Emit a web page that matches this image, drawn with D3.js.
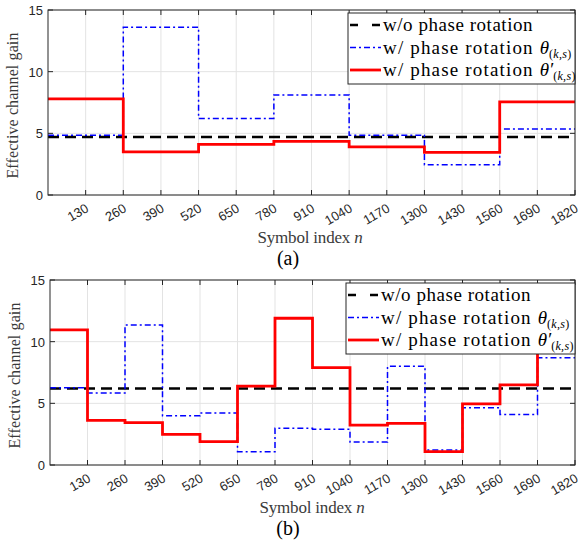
<!DOCTYPE html>
<html><head><meta charset="utf-8">
<script src="https://cdn.jsdelivr.net/npm/d3@7"></script>
<style>body{margin:0;background:#fff;} svg{display:block;}
.serif{font-family:"Liberation Serif","DejaVu Serif",serif;}
.sans{font-family:"Liberation Sans","DejaVu Sans",sans-serif;}
</style>
</head><body>
<svg id="c" width="579" height="545"></svg>
<script>
const xTicks = [130,260,390,520,650,780,910,1040,1170,1300,1430,1560,1690,1820];
const yTicks = [0,5,10,15];
const xMax = 1820;
// Panel (a): segments of 260 symbols
const stepA = 260;
const baseA = 4.7;
const blueA = [4.85, 13.6, 6.2, 8.1, 4.85, 2.45, 5.35];
const redA  = [7.8, 3.5, 4.1, 4.35, 3.9, 3.45, 7.55];
// Panel (b): segments of 130 symbols
const stepB = 130;
const baseB = 6.2;
const blueB = [6.27, 5.84, 11.35, 4.0, 4.22, 1.08, 2.97, 2.89, 1.86, 8.0, 1.22, 4.65, 4.1, 8.7];
const redB  = [10.95, 3.62, 3.43, 2.49, 1.89, 6.4, 11.9, 7.89, 3.24, 3.38, 1.08, 4.95, 6.49, 11.5];

const svg = d3.select("#c");
const axisCol = "#262626";

// widen Times-like text to the width of the original (Computer Modern) text
function fit(sel, target){
  const node = sel.node();
  const w = node.getComputedTextLength();
  const n = node.textContent.length;
  if (n > 1) sel.attr("letter-spacing", ((target - w) / n).toFixed(2));
}

function panel(cfg){
  const x = d3.scaleLinear().domain([0, xMax]).range([cfg.l, cfg.r]);
  const y = d3.scaleLinear().domain([0, 15]).range([cfg.b, cfg.t]);
  const g = svg.append("g");
  // grid
  g.selectAll(".gx").data(xTicks).enter().append("line")
    .attr("x1", d=>x(d)).attr("x2", d=>x(d)).attr("y1", cfg.t).attr("y2", cfg.b)
    .attr("stroke", "#e3e3e3").attr("stroke-width", 1);
  g.selectAll(".gy").data(yTicks).enter().append("line")
    .attr("x1", cfg.l).attr("x2", cfg.r).attr("y1", d=>y(d)).attr("y2", d=>y(d))
    .attr("stroke", "#e3e3e3").attr("stroke-width", 1);

  const mk = (vals, step) => { const p = vals.map((v,i)=>[i*step, v]); p.push([xMax, vals[vals.length-1]]); return p; };
  const line = d3.line().x(d=>x(d[0])).y(d=>y(d[1])).curve(d3.curveStepAfter);

  const clip = "clip" + cfg.id;
  svg.append("clipPath").attr("id", clip).append("rect")
    .attr("x", cfg.l).attr("y", cfg.t).attr("width", cfg.r-cfg.l).attr("height", cfg.b-cfg.t);
  const pg = g.append("g").attr("clip-path", `url(#${clip})`);

  pg.append("path").datum([[0,cfg.base],[xMax,cfg.base]]).attr("d", line)
    .attr("fill","none").attr("stroke","#000").attr("stroke-width",2.6).attr("stroke-dasharray","11,6");
  pg.append("path").datum(mk(cfg.blue, cfg.step)).attr("d", line)
    .attr("fill","none").attr("stroke","#0000ff").attr("stroke-width",1.5).attr("stroke-dasharray","6,3,2,3");
  pg.append("path").datum(mk(cfg.red, cfg.step)).attr("d", line)
    .attr("fill","none").attr("stroke","#ff0000").attr("stroke-width",2.8);

  // axes box
  g.append("rect").attr("x", cfg.l).attr("y", cfg.t).attr("width", cfg.r-cfg.l).attr("height", cfg.b-cfg.t)
    .attr("fill","none").attr("stroke", axisCol).attr("stroke-width", 1);
  // ticks (inward)
  const tl = 5;
  xTicks.forEach(d=>{
    g.append("line").attr("x1",x(d)).attr("x2",x(d)).attr("y1",cfg.b).attr("y2",cfg.b-tl).attr("stroke",axisCol);
    g.append("line").attr("x1",x(d)).attr("x2",x(d)).attr("y1",cfg.t).attr("y2",cfg.t+tl).attr("stroke",axisCol);
  });
  yTicks.forEach(d=>{
    g.append("line").attr("x1",cfg.l).attr("x2",cfg.l+tl).attr("y1",y(d)).attr("y2",y(d)).attr("stroke",axisCol);
    g.append("line").attr("x1",cfg.r).attr("x2",cfg.r-tl).attr("y1",y(d)).attr("y2",y(d)).attr("stroke",axisCol);
  });
  // tick labels
  g.selectAll(".xl").data(xTicks).enter().append("text").attr("class","sans")
    .attr("transform", d=>`translate(${x(d)+4},${cfg.b+16}) rotate(-30)`)
    .attr("text-anchor","end")
    .attr("font-size",13).attr("fill",axisCol).text(d=>d);
  g.selectAll(".yl").data(yTicks).enter().append("text").attr("class","sans")
    .attr("x", cfg.l-5).attr("y", d=>y(d)+5).attr("text-anchor","end")
    .attr("font-size",13).attr("fill",axisCol).text(d=>d);
  // axis labels
  const yl = g.append("text").attr("class","serif").attr("transform", `translate(${cfg.l-30},${(cfg.t+cfg.b)/2+3}) rotate(-90)`)
    .attr("text-anchor","middle")
    .attr("font-size",16).attr("fill","#3a3a3a").text("Effective channel gain");
  fit(yl, 146);
  const xl = g.append("text").attr("class","serif").attr("x", cfg.xlx).attr("y", cfg.b+48).attr("text-anchor","middle")
    .attr("font-size",17).attr("fill","#3a3a3a");
  xl.append("tspan").text("Symbol index ");
  xl.append("tspan").attr("font-style","italic").text("n");
  fit(xl, 105);
  g.append("text").attr("class","serif").attr("x", 288).attr("y", cfg.b+70).attr("text-anchor","middle")
    .attr("font-size",20).attr("fill","#000").text(cfg.cap);

  // legend
  const lx = cfg.legX, ly = cfg.t + 3, lw = cfg.r - cfg.legX, lh = 71;
  g.append("rect").attr("x", lx).attr("y", ly).attr("width", lw).attr("height", lh)
    .attr("fill","#fff").attr("stroke", axisCol).attr("stroke-width",1);
  const items = [
    {col:"#000", w:2.6, dash:"8,14", t:"w/o phase rotation", sym:null, tw:150},
    {col:"#0000ff", w:1.5, dash:"6,3,2,3", t:"w/ phase rotation ", sym:"θ", tw:152},
    {col:"#ff0000", w:2.8, dash:null, t:"w/ phase rotation ", sym:"θ′", tw:152}
  ];
  items.forEach((it,i)=>{
    const yy = ly + 12 + i*22.5;
    g.append("line").attr("x1", lx+2).attr("x2", lx+33).attr("y1", yy).attr("y2", yy)
      .attr("stroke", it.col).attr("stroke-width", it.w).attr("stroke-dasharray", it.dash);
    const t = g.append("text").attr("class","serif").attr("x", lx+35).attr("y", yy+6)
      .attr("font-size",19).attr("fill","#000");
    const main = t.append("tspan").text(it.t);
    const w = main.node().getComputedTextLength();
    const n = it.t.length;
    main.attr("letter-spacing", Math.max(0, (it.tw - w)/n).toFixed(2));
    if (it.sym){
      t.append("tspan").attr("font-style","italic").attr("letter-spacing",0).text(it.sym);
      const s = t.append("tspan").attr("font-size",12).attr("dy",4).attr("letter-spacing",0.3);
      s.append("tspan").text("(");
      s.append("tspan").attr("font-style","italic").text("k");
      s.append("tspan").text(",");
      s.append("tspan").attr("font-style","italic").text("s");
      s.append("tspan").text(")");
    }
  });
}

panel({id:"a", l:48, r:575, t:10, b:195, base:baseA, blue:blueA, red:redA, step:stepA, cap:"(a)", legX:348, xlx:310});
panel({id:"b", l:50, r:575, t:280, b:465, base:baseB, blue:blueB, red:redB, step:stepB, cap:"(b)", legX:346, xlx:312});
</script>
</body></html>
